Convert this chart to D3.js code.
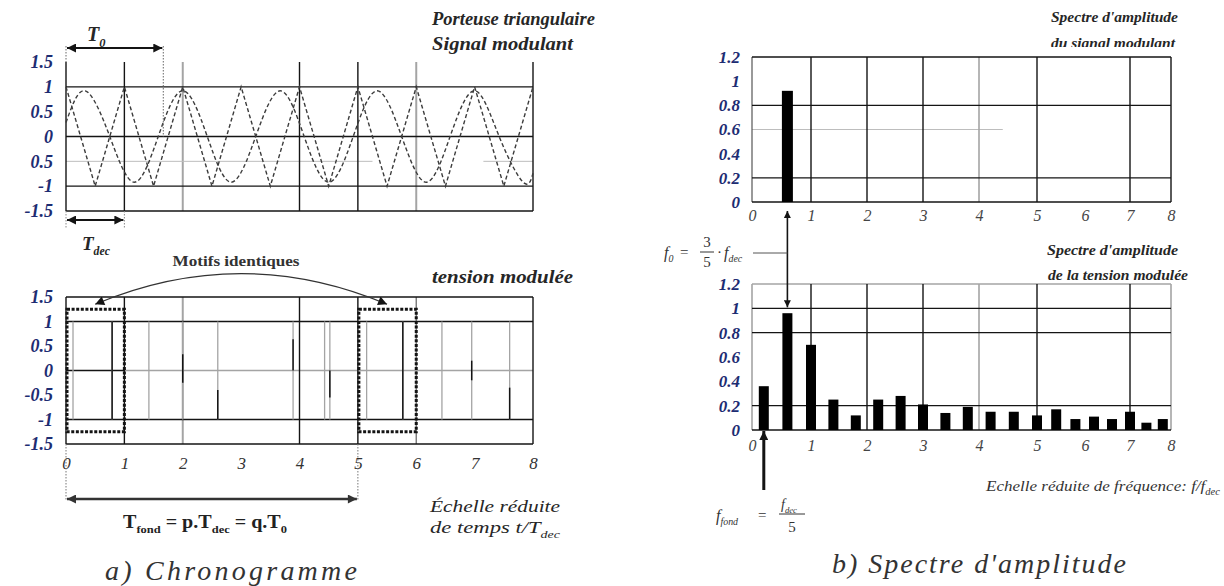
<!DOCTYPE html>
<html>
<head>
<meta charset="utf-8">
<script src="https://cdn.jsdelivr.net/npm/d3@7"></script>
<style>
  body { margin: 0; background: #fff; }
  svg { display: block; }
  svg text { font-family: "Liberation Serif", "Tinos", "DejaVu Serif", serif; }
</style>
</head>
<body>
<svg id="fig" width="1224" height="586"></svg>
<script>
// ---------- data ----------
// time axis (reduced time t/Tdec) and voltage ticks
const tTicks = [0, 1, 2, 3, 4, 5, 6, 7, 8];
const voltTicks = [1.5, 1, 0.5, 0, -0.5, -1, -1.5];
const voltLabelsTop = ["1.5", "1", "0.5", "0", "0.5", "-1", "-1.5"];
const voltLabelsBot = ["1.5", "1", "0.5", "0", "-0.5", "-1", "-1.5"];

// triangular carrier: vertices (t, value)
const carrierT = [0, 0.5, 1, 1.5, 2, 2.5, 3, 3.5, 4, 4.5, 5, 5.5, 6, 6.5, 7, 7.5, 8];
const carrierV = [1, -1, 1, -1, 1, -1, 1, -1, 1, -1, 1, -1, 1, -1, 1, -1, 1];

// modulating signal: extrema and zero crossings (t, value)
const modT = [0, 0.33, 0.75, 1.17, 1.58, 2.0, 2.42, 2.83, 3.25, 3.67, 4.08, 4.5, 4.92, 5.33, 5.75, 6.17, 6.58, 7.0, 7.42, 7.83, 8];
const modV = [0.28, 0.92, 0, -0.92, 0, 0.92, 0, -0.92, 0, 0.92, 0, -0.92, 0, 0.92, 0, -0.92, 0, 0.92, 0, -0.92, -0.74];

// modulated voltage: switching instants (edges between -1 and +1)
const pwmEdges = [0.12, 0.79, 1.42, 2.0, 2.6, 3.89, 4.43, 4.52, 5.15, 5.77, 6.44, 6.95, 7.6];
// darker traces on some edges: [t, from, to]
const pwmDark = [[0.79, -1, 1], [2.0, -0.25, 0.33], [2.6, -1, -0.4], [3.89, 0, 0.64],
                 [4.52, -0.55, 0], [5.77, -1, 1], [6.95, -0.2, 0.2], [7.6, -1, -0.35]];
// identical patterns over one switching period: [tStart, tEnd]
const motifs = [[0, 1], [5, 6]];

// spectra (reduced frequency f/fdec)
const fTicks = [0, 1, 2, 3, 4, 5, 6, 7, 8];
const ampTicks = [0, 0.2, 0.4, 0.6, 0.8, 1, 1.2];
const ampLabels = ["0", "0.2", "0.4", "0.6", "0.8", "1", "1.2"];
const modFreq = [0.6];
const modAmp = [0.92];
const pwmFreq = [0.2, 0.6, 1.0, 1.4, 1.8, 2.2, 2.6, 3.0, 3.4, 3.8, 4.2, 4.6, 5.0, 5.4, 5.8, 6.2, 6.6, 7.0, 7.4, 7.8];
const pwmAmp  = [0.36, 0.96, 0.70, 0.25, 0.12, 0.25, 0.28, 0.21, 0.14, 0.19, 0.15, 0.15, 0.12, 0.17, 0.09, 0.11, 0.09, 0.15, 0.06, 0.09];

// ---------- drawing ----------
const svg = d3.select("#fig");
const INK = "#141414", GREY = "#a4a4a4", NAVY = "#1d2c72", TXT = "#262626";
const SERIF = '"Liberation Serif", "Tinos", "DejaVu Serif", serif';

const defs = svg.append("defs");
function marker(id, color, w, h) {
  defs.append("marker").attr("id", id)
    .attr("viewBox", "0 0 10 10").attr("refX", 10).attr("refY", 5)
    .attr("markerWidth", w).attr("markerHeight", h)
    .attr("markerUnits", "userSpaceOnUse").attr("orient", "auto-start-reverse")
    .append("path").attr("d", "M0,0L10,5L0,10Z").attr("fill", color);
}
marker("ah", INK, 12, 9);
marker("ahs", INK, 9, 7);
marker("ahg", "#333", 12, 9);

function seg(g, x1, y1, x2, y2, stroke, w, dash) {
  const l = g.append("line").attr("x1", x1).attr("y1", y1).attr("x2", x2).attr("y2", y2)
    .attr("stroke", stroke).attr("stroke-width", w);
  if (dash) l.attr("stroke-dasharray", dash);
  return l;
}
function txt(g, x, y, s, size, opts = {}) {
  const t = g.append("text").attr("x", x).attr("y", y).text(s)
    .style("font-family", SERIF).style("font-size", size + "px")
    .style("font-style", opts.style || "italic").style("font-weight", opts.weight || "normal")
    .attr("fill", opts.fill || TXT).attr("text-anchor", opts.anchor || "start");
  if (opts.len) t.attr("textLength", opts.len).attr("lengthAdjust", "spacingAndGlyphs");
  return t;
}
// text with subscript parts: parts = [[string, isSub], ...]
function subText(g, x, y, parts, size, opts = {}) {
  const t = g.append("text").attr("x", x).attr("y", y)
    .style("font-family", SERIF).style("font-size", size + "px")
    .style("font-style", opts.style || "italic").style("font-weight", opts.weight || "normal")
    .attr("fill", opts.fill || TXT).attr("text-anchor", opts.anchor || "start");
  let down = false;
  parts.forEach(([s, sub]) => {
    const sp = t.append("tspan").text(s);
    if (sub) sp.style("font-size", (size * 0.62) + "px");
    if (sub && !down) { sp.attr("dy", size * 0.28); down = true; }
    else if (!sub && down) { sp.attr("dy", -size * 0.28); down = false; }
  });
  if (opts.len) t.attr("textLength", opts.len).attr("lengthAdjust", "spacingAndGlyphs");
  return t;
}
function styleAxis(sel, opts) {
  sel.select(".domain").remove();
  sel.attr("font-family", null).attr("font-size", null);
  sel.selectAll("text").style("font-family", SERIF).style("font-size", opts.size + "px")
    .style("font-style", "italic").style("font-weight", opts.weight).attr("fill", opts.fill);
}

// ===== a) Chronogramme =====
const xA = d3.scaleLinear().domain([0, 8]).range([66, 533]);
const yA = d3.scaleLinear().domain([-1.5, 1.5]).range([211, 62]);
const yB = d3.scaleLinear().domain([-1.5, 1.5]).range([444, 297]);

// --- carrier and modulating signal ---
const gA = svg.append("g");
[2, 6].forEach(t => seg(gA, xA(t), yA(1.5), xA(t), yA(-1.5), GREY, 2));
[[0, 5.25], [7.15, 8]].forEach(s => seg(gA, xA(s[0]), yA(-0.5), xA(s[1]), yA(-0.5), "#bdbdbd", 1));
[0, 1, 4, 5, 8].forEach(t => seg(gA, xA(t), yA(1.5), xA(t), yA(-1.5), INK, 1.4));
[1, 0, -1, -1.5].forEach(v => seg(gA, xA(0), yA(v), xA(8), yA(v), INK, 1.4));

const lineCarrier = d3.line().x(d => xA(d[0])).y(d => yA(d[1]));
const lineMod = d3.line().x(d => xA(d[0])).y(d => yA(d[1])).curve(d3.curveNatural);
gA.append("path").datum(d3.zip(carrierT, carrierV)).attr("d", lineCarrier)
  .attr("fill", "none").attr("stroke", "#3c3c3c").attr("stroke-width", 1.4).attr("stroke-dasharray", "4,2.5");
gA.append("path").datum(d3.zip(modT, modV)).attr("d", lineMod)
  .attr("fill", "none").attr("stroke", "#3c3c3c").attr("stroke-width", 1.4).attr("stroke-dasharray", "4,2.5");

gA.append("g").attr("transform", `translate(${xA(0)},0)`)
  .call(d3.axisLeft(yA).tickValues(voltTicks).tickFormat((d, i) => voltLabelsTop[i]).tickSize(0).tickPadding(13))
  .call(s => styleAxis(s, { size: 18, weight: "bold", fill: NAVY }));

// T0 and Tdec markers
const T0 = 5 / 3;
seg(gA, xA(0), 46, xA(0), yA(1.5), "#666", 1, "1.5,1.5");
seg(gA, xA(T0), 46, xA(T0), yA(0), "#666", 1, "1.5,1.5");
seg(gA, xA(0) + 1, 48, xA(T0) - 1, 48, INK, 2).attr("marker-start", "url(#ah)").attr("marker-end", "url(#ah)");
subText(gA, 87, 41, [["T", false], ["0", true]], 20, { weight: "bold" });
seg(gA, xA(0), yA(-1.5), xA(0), 228, "#888", 1, "1.5,1.5");
seg(gA, xA(1), yA(-1.5), xA(1), 228, "#888", 1, "1.5,1.5");
seg(gA, xA(0) + 1, 220, xA(1) - 1, 220, INK, 2).attr("marker-start", "url(#ah)").attr("marker-end", "url(#ah)");
subText(gA, 82, 250, [["T", false], ["dec", true]], 19, { weight: "bold" });

txt(gA, 432, 25, "Porteuse triangulaire", 18.5, { weight: "bold" });
txt(gA, 432, 50, "Signal modulant", 18.5, { weight: "bold", len: 141 });

// --- modulated voltage ---
const gB = svg.append("g");
seg(gB, xA(2), yB(1.5), xA(2), yB(-1.5), GREY, 2);
seg(gB, xA(6), yB(1.5), xA(6), yB(-1.5), "#777", 1.4);
seg(gB, xA(1), yB(0), xA(8), yB(0), GREY, 1.6);
seg(gB, xA(0), yB(0), xA(1), yB(0), INK, 1.4);
[0, 1, 4, 5, 8].forEach(t => seg(gB, xA(t), yB(1.5), xA(t), yB(-1.5), INK, 1.4));
[1.5, 1, -1, -1.5].forEach(v => seg(gB, xA(0), yB(v), xA(8), yB(v), INK, 1.4));

gB.selectAll("line.edge").data(pwmEdges).join("line").attr("class", "edge")
  .attr("x1", d => xA(d)).attr("x2", d => xA(d)).attr("y1", yB(1)).attr("y2", yB(-1))
  .attr("stroke", GREY).attr("stroke-width", 1.3);
gB.selectAll("line.dark").data(pwmDark).join("line").attr("class", "dark")
  .attr("x1", d => xA(d[0])).attr("x2", d => xA(d[0])).attr("y1", d => yB(d[1])).attr("y2", d => yB(d[2]))
  .attr("stroke", INK).attr("stroke-width", 1.5);

gB.selectAll("rect.motif").data(motifs).join("rect").attr("class", "motif")
  .attr("x", d => xA(d[0]) + 1).attr("y", yB(1.25))
  .attr("width", d => xA(d[1]) - xA(d[0]) - 1).attr("height", yB(-1.25) - yB(1.25))
  .attr("fill", "none").attr("stroke", INK).attr("stroke-width", 3).attr("stroke-dasharray", "3,1.6");

// arrow linking the two identical patterns
{
  const xs = xA((motifs[0][0] + motifs[0][1]) / 2), xe = xA((motifs[1][0] + motifs[1][1]) / 2);
  const yTip = yB(1.25) - 5;
  gB.append("path").attr("d", `M${xs},${yTip} Q${(xs + xe) / 2},243 ${xe},${yTip}`)
    .attr("fill", "none").attr("stroke", "#333").attr("stroke-width", 1.3)
    .attr("marker-start", "url(#ah)").attr("marker-end", "url(#ah)");
  txt(gB, 236, 266, "Motifs identiques", 14, { style: "normal", weight: "bold", anchor: "middle", fill: "#333", len: 127 });
}

gB.append("g").attr("transform", `translate(${xA(0)},0)`)
  .call(d3.axisLeft(yB).tickValues(voltTicks).tickFormat((d, i) => voltLabelsBot[i]).tickSize(0).tickPadding(13))
  .call(s => styleAxis(s, { size: 18, weight: "bold", fill: NAVY }));
gB.append("g").attr("transform", `translate(0,${yB(-1.5)})`)
  .call(d3.axisBottom(xA).tickValues(tTicks).tickFormat(d3.format("d")).tickSize(0).tickPadding(13))
  .call(s => styleAxis(s, { size: 17, weight: "normal", fill: "#333" }));

txt(gB, 432, 283, "tension modulée", 18.5, { weight: "bold", len: 141 });

// fundamental period
seg(gB, xA(0), yB(-1.5), xA(0), 500, "#777", 1, "1.5,1.5");
seg(gB, xA(5), yB(-1.5), xA(5), 500, "#777", 1, "1.5,1.5");
seg(gB, xA(0) + 1, 499, xA(5) - 1, 499, "#333", 2.5).attr("marker-start", "url(#ahg)").attr("marker-end", "url(#ahg)");
subText(gB, 123, 528, [["T", false], ["fond", true], [" = p.T", false], ["dec", true], [" = q.T", false], ["0", true]], 18, { style: "normal", weight: "bold", fill: "#222", len: 164 });
txt(gB, 430, 512, "Échelle réduite", 17, { len: 130 });
subText(gB, 430, 533, [["de temps t/T", false], ["dec", true]], 17, { len: 130 });

txt(svg, 105, 580, "a) Chronogramme", 28, { fill: "#333" }).attr("textLength", 252).attr("lengthAdjust", "spacing");

// ===== b) Spectre d'amplitude =====
const fx = d3.scaleLinear().domain(fTicks).range([752, 811, 867, 923, 979, 1037, 1085, 1130, 1171]);
const yC = d3.scaleLinear().domain([0, 1.2]).range([202, 57]);
const yD = d3.scaleLinear().domain([0, 1.2]).range([430, 284]);

// --- spectrum of the modulating signal ---
const gC = svg.append("g");
defs.append("clipPath").attr("id", "titleClip").append("rect").attr("x", 990).attr("y", 0).attr("width", 234).attr("height", 47);
const gCt = gC.append("g").attr("clip-path", "url(#titleClip)");
txt(gCt, 1051, 22, "Spectre d'amplitude", 15.5, { weight: "bold", len: 127 });
txt(gCt, 1051, 48, "du signal modulant", 15.5, { weight: "bold", len: 124 });

seg(gC, fx(0), yC(0.6), fx(4.41), yC(0.6), "#bdbdbd", 1);
seg(gC, fx(4), yC(1.2), fx(4), yC(0), GREY, 1.6);
seg(gC, fx(0), yC(1.2), fx(0), yC(0), "#555", 1.2);
[1, 2, 3, 5, 7, 8].forEach(f => seg(gC, fx(f), yC(1.2), fx(f), yC(0), INK, 1.4));
[1.2, 0.8, 0.2, 0].forEach(v => seg(gC, fx(0), yC(v), fx(8), yC(v), INK, 1.4));

gC.selectAll("rect.bar").data(d3.zip(modFreq, modAmp)).join("rect").attr("class", "bar")
  .attr("x", d => fx(d[0]) - 5.5).attr("width", 11)
  .attr("y", d => yC(d[1])).attr("height", d => yC(0) - yC(d[1])).attr("fill", "#000");

gC.append("g").attr("transform", `translate(${fx(0)},0)`)
  .call(d3.axisLeft(yC).tickValues(ampTicks).tickFormat((d, i) => ampLabels[i]).tickSize(0).tickPadding(12))
  .call(s => styleAxis(s, { size: 17, weight: "bold", fill: NAVY }));
gC.append("g").attr("transform", `translate(0,${yC(0)})`)
  .call(d3.axisBottom(fx).tickValues(fTicks).tickFormat(d3.format("d")).tickSize(0).tickPadding(8))
  .call(s => styleAxis(s, { size: 16, weight: "normal", fill: "#444" }));

// --- spectrum of the modulated voltage ---
const gD = svg.append("g");
txt(gD, 1047, 255, "Spectre d'amplitude", 15.5, { weight: "bold", len: 131 });
txt(gD, 1048, 280, "de la tension modulée", 15.5, { weight: "bold", len: 140 });

[0, 4, 8].forEach(f => seg(gD, fx(f), yD(1.2), fx(f), yD(0), GREY, 1.6));
seg(gD, fx(0), yD(1.2), fx(8), yD(1.2), GREY, 1.6);
[1, 2, 3, 5, 7].forEach(f => seg(gD, fx(f), yD(1.2), fx(f), yD(0), INK, 1.4));
[1, 0.8, 0.2, 0].forEach(v => seg(gD, fx(0), yD(v), fx(8), yD(v), INK, 1.4));

gD.selectAll("rect.bar").data(d3.zip(pwmFreq, pwmAmp)).join("rect").attr("class", "bar")
  .attr("x", d => fx(d[0]) - 5).attr("width", 10)
  .attr("y", d => yD(d[1])).attr("height", d => yD(0) - yD(d[1])).attr("fill", "#000");

gD.append("g").attr("transform", `translate(${fx(0)},0)`)
  .call(d3.axisLeft(yD).tickValues(ampTicks).tickFormat((d, i) => ampLabels[i]).tickSize(0).tickPadding(12))
  .call(s => styleAxis(s, { size: 17, weight: "bold", fill: NAVY }));
gD.append("g").attr("transform", `translate(0,${yD(0)})`)
  .call(d3.axisBottom(fx).tickValues(fTicks).tickFormat(d3.format("d")).tickSize(0).tickPadding(10))
  .call(s => styleAxis(s, { size: 16, weight: "normal", fill: "#444" }));

// f0 link between the two spectra
const gE = svg.append("g");
const xf0 = fx(modFreq[0]);
seg(gE, xf0, 211, xf0, yD(1) - 1, INK, 1.6).attr("marker-start", "url(#ahs)").attr("marker-end", "url(#ahs)");
seg(gE, 753, 253, xf0, 253, "#555", 1);
subText(gE, 664, 258, [["f", false], ["0", true]], 16, { fill: "#333" });
txt(gE, 680, 257, "=", 15, { style: "normal", fill: "#333" });
txt(gE, 707, 247, "3", 15, { style: "normal", anchor: "middle", fill: "#333" });
seg(gE, 700, 252, 714, 252, "#333", 1);
txt(gE, 707, 267, "5", 15, { style: "normal", anchor: "middle", fill: "#333" });
txt(gE, 717, 257, "·", 15, { style: "normal", fill: "#333" });
subText(gE, 724, 258, [["f", false], ["dec", true]], 16, { fill: "#333" });

// fundamental frequency marker
const xff = fx(pwmFreq[0]);
seg(gE, xff, 490, xff, yD(0) + 1, INK, 3).attr("marker-end", "url(#ah)");
subText(gE, 716, 521, [["f", false], ["fond", true]], 16, { fill: "#333" });
txt(gE, 758, 520, "=", 15, { style: "normal", fill: "#333" });
subText(gE, 781, 509, [["f", false], ["dec", true]], 14, { fill: "#333" });
seg(gE, 779, 514, 805, 514, "#333", 1);
txt(gE, 792, 532, "5", 15, { style: "normal", anchor: "middle", fill: "#333" });

subText(gE, 986, 491, [["Echelle réduite de fréquence: f/f", false], ["dec", true]], 15, { fill: "#333", len: 234 });

txt(svg, 832, 573, "b) Spectre d'amplitude", 28, { fill: "#333" }).attr("textLength", 294).attr("lengthAdjust", "spacing");
</script>
</body>
</html>
